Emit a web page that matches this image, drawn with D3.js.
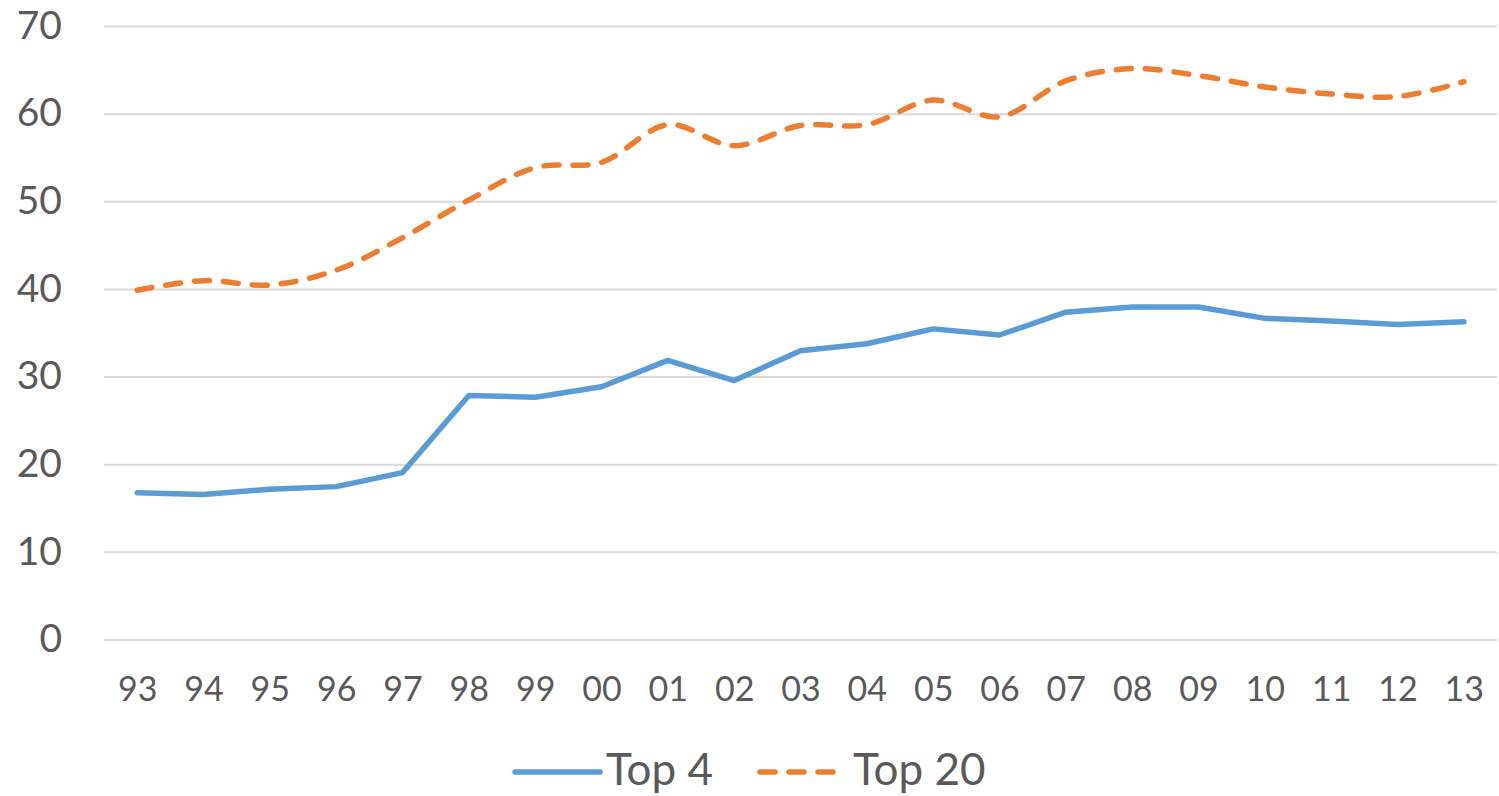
<!DOCTYPE html>
<html>
<head>
<meta charset="utf-8">
<script src="https://cdn.jsdelivr.net/npm/d3@7"></script>
<style>
  html, body { margin: 0; padding: 0; background: #fff; }
  svg { display: block; }
</style>
</head>
<body>
<svg id="chart" width="1499" height="796"></svg>
<script>
// Years (two-digit labels) on the x axis
const years = ["93","94","95","96","97","98","99","00","01","02","03","04","05","06","07","08","09","10","11","12","13"];
// Share held by the four largest
const top4 = [16.8, 16.6, 17.2, 17.5, 19.1, 27.9, 27.7, 28.9, 31.9, 29.6, 33.0, 33.8, 35.5, 34.8, 37.4, 38.0, 38.0, 36.7, 36.4, 36.0, 36.3];
// Share held by the twenty largest
const top20 = [39.9, 41.0, 40.5, 42.2, 45.9, 50.2, 53.9, 54.5, 58.8, 56.4, 58.7, 58.8, 61.6, 59.7, 63.8, 65.2, 64.4, 63.1, 62.3, 62.0, 63.7];
const yTicks = [0, 10, 20, 30, 40, 50, 60, 70];
const seriesNames = ["Top 4", "Top 20"];

const textColor = "#595959";
const gridColor = "#d9d9d9";
const blue = "#5b9bd5";
const orange = "#ed7d31";
const font = "Lato, 'Open Sans', sans-serif";

const svg = d3.select("#chart");
const plot = { left: 104, right: 1497, top: 26.5, bottom: 640 };

const x = d3.scalePoint()
  .domain(years)
  .range([plot.left, plot.right])
  .padding(0.5);

const y = d3.scaleLinear()
  .domain([0, 70])
  .range([plot.bottom, plot.top]);

// Horizontal gridlines
svg.append("g")
  .selectAll("line")
  .data(yTicks)
  .join("line")
  .attr("x1", plot.left)
  .attr("x2", plot.right)
  .attr("y1", d => y(d))
  .attr("y2", d => y(d))
  .attr("stroke", gridColor)
  .attr("stroke-width", 2);

// Y axis labels
const yAxis = d3.axisLeft(y).tickValues(yTicks).tickSize(0).tickPadding(0);
svg.append("g")
  .attr("transform", "translate(62,0)")
  .call(yAxis)
  .call(g => g.select(".domain").remove())
  .call(g => g.selectAll("text")
    .attr("fill", textColor)
    .attr("font-family", font)
    .attr("font-size", 39)
    .attr("dy", "0.30em"));

// X axis labels
const xAxis = d3.axisBottom(x).tickSize(0).tickPadding(0);
svg.append("g")
  .attr("transform", "translate(0,689)")
  .call(xAxis)
  .call(g => g.select(".domain").remove())
  .call(g => g.selectAll("text")
    .attr("fill", textColor)
    .attr("font-family", font)
    .attr("font-size", 34)
    .attr("dy", "0.36em"));

// Series lines
const lineLinear = d3.line()
  .x((d, i) => x(years[i]))
  .y(d => y(d));

const lineSmooth = d3.line()
  .x((d, i) => x(years[i]))
  .y(d => y(d))
  .curve(d3.curveCatmullRom.alpha(0.5));

svg.append("path")
  .datum(top20)
  .attr("d", lineSmooth)
  .attr("fill", "none")
  .attr("stroke", orange)
  .attr("stroke-width", 5.5)
  .attr("stroke-linecap", "round")
  .attr("stroke-dasharray", "15,14");

svg.append("path")
  .datum(top4)
  .attr("d", lineLinear)
  .attr("fill", "none")
  .attr("stroke", blue)
  .attr("stroke-width", 5.5)
  .attr("stroke-linejoin", "round")
  .attr("stroke-linecap", "round");

// Legend
const legend = svg.append("g");
const legendItems = [
  { name: seriesNames[0], color: blue, dash: null, x1: 515, x2: 600, tx: 606 },
  { name: seriesNames[1], color: orange, dash: "15,14", x1: 760, x2: 837, tx: 853 }
];
legendItems.forEach(it => {
  legend.append("line")
    .attr("x1", it.x1).attr("x2", it.x2)
    .attr("y1", 772).attr("y2", 772)
    .attr("stroke", it.color)
    .attr("stroke-width", 5.5)
    .attr("stroke-linecap", "round")
    .attr("stroke-dasharray", it.dash);
  legend.append("text")
    .attr("x", it.tx)
    .attr("y", 785)
    .attr("fill", textColor)
    .attr("font-family", font)
    .attr("font-size", 44)
    .text(it.name);
});
</script>
</body>
</html>
